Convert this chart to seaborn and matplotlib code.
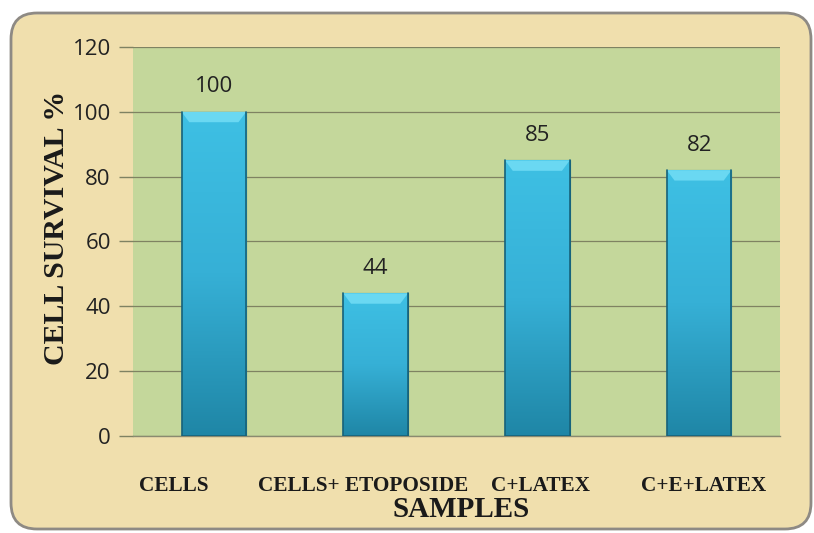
import numpy as np
import pandas as pd
import matplotlib
matplotlib.use("Agg")
import matplotlib.pyplot as plt
from matplotlib.patches import FancyBboxPatch
from matplotlib.colors import LinearSegmentedColormap
from matplotlib.transforms import ScaledTranslation
import seaborn as sns

samples = ["CELLS", "CELLS+ ETOPOSIDE", "C+LATEX", "C+E+LATEX"]
survival = [100, 44, 85, 82]
y_ticks = [0, 20, 40, 60, 80, 100, 120]

df = pd.DataFrame({"sample": samples, "survival": survival})

sns.set_theme(style="white")
plt.rcParams["font.family"] = ["Open Sans", "DejaVu Sans"]
SERIF = ["Liberation Serif", "DejaVu Serif"]

fig = plt.figure(figsize=(8.14, 5.33), dpi=100)
fig.patch.set_facecolor("white")

# parchment panel with rounded corners behind the chart
W, H = 814, 533
panel = FancyBboxPatch((11 / W, 4 / H), 800 / W, 516 / H,
                       boxstyle="round,pad=0,rounding_size=0.032",
                       transform=fig.transFigure, facecolor="#F0DFAD",
                       edgecolor="#8E8A84", linewidth=2.0, zorder=0,
                       mutation_aspect=W / H)
fig.patches.append(panel)

ax = fig.add_axes([133 / W, 1 - 436 / H, 647 / W, 389 / H])
ax.set_zorder(2)
ax.set_facecolor("#C4D79B")

sns.barplot(data=df, x="sample", y="survival", ax=ax, width=0.4,
            color="#32AFD4", edgecolor="#1C6F88", linewidth=0.8,
            saturation=1, zorder=3)

ax.set_ylim(0, 120)
ax.set_yticks(y_ticks)
ax.set_yticklabels([str(v) for v in y_ticks], fontsize=16, color="#222222")
ax.yaxis.grid(True, color="#7F8262", linewidth=0.9, zorder=1)
ax.set_axisbelow(True)

for side in ["top", "right", "left"]:
    ax.spines[side].set_visible(False)
ax.spines["bottom"].set_color("#8A8A70")
ax.spines["bottom"].set_linewidth(1.0)

ax.tick_params(axis="y", which="major", length=10, width=1.0,
               color="#7F8262", pad=6, left=True)
ax.tick_params(axis="x", length=0, pad=29)
ax.set_xticks(range(len(samples)))
ax.set_xticklabels(samples, fontsize=15.3, fontweight="bold",
                   family=SERIF, color="#1a1a1a")

# category captions sit a little off their bars
label_shift_px = [-40, -12, 3, 5]
for lbl, dx in zip(ax.get_xticklabels(), label_shift_px):
    lbl.set_transform(lbl.get_transform()
                      + ScaledTranslation(dx / 100, 0, fig.dpi_scale_trans))

ax.set_xlabel("SAMPLES", fontsize=21, fontweight="bold", family=SERIF,
              color="#1a1a1a")
ax.set_ylabel("CELL SURVIVAL %", fontsize=21.5, fontweight="bold",
              family=SERIF, color="#1a1a1a")
ax.xaxis.label.set_va("center")
ax.yaxis.label.set_va("center")
ax.xaxis.set_label_coords(0.507, -0.19)
ax.yaxis.set_label_coords(-0.119, 0.535)

# vertical shading inside each bar, light cyan at the top to teal at the base
grad = LinearSegmentedColormap.from_list("bar", ["#1F86A6", "#36B0D6", "#3EC0E4"])
ramp = np.linspace(0, 1, 256).reshape(-1, 1)
for bar in ax.patches:
    x0, w, h = bar.get_x(), bar.get_width(), bar.get_height()
    im = ax.imshow(ramp, cmap=grad, aspect="auto", origin="lower",
                   extent=(x0, x0 + w, 0, h), zorder=3.5)
    im.set_clip_path(bar)
    # bevelled highlight along the top edge
    ax.fill([x0, x0 + w, x0 + w * 0.88, x0 + w * 0.12],
            [h, h, h - 3.2, h - 3.2], color="#6AD8F2", zorder=3.7, lw=0)
    ax.plot([x0, x0, x0 + w, x0 + w], [h, 0, 0, h], color="#17627A",
            lw=1.2, zorder=3.8)

ax.set_xlim(-0.5, 3.5)
ax.set_ylim(0, 120)

ax.bar_label(ax.containers[0], labels=[str(v) for v in survival],
             padding=10.5, fontsize=16, color="#222222")

fig.savefig("out.png", dpi=100)
